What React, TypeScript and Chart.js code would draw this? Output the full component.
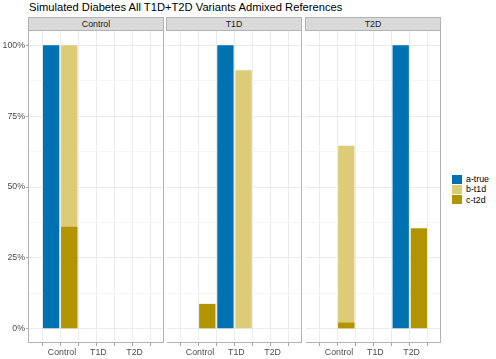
import React, { useEffect, useRef } from 'react';
import { Chart, registerables } from 'chart.js';

Chart.register(...registerables);

// ---------- data ----------
const chartTitle = 'Simulated Diabetes All T1D+T2D Variants Admixed References';
const panelNames = ['Control', 'T1D', 'T2D'];
const xCategories = ['Control', 'T1D', 'T2D'];
// two slots per category: true class (left), predicted (right)
const slots = [1, 2, 3, 4, 5, 6];
const seriesNames = ['a-true', 'b-t1d', 'c-t2d'];
const seriesColors = ['#0072B2', '#DDCC77', '#B29400'];
const yMajorTicks = [0, 25, 50, 75, 100];
const yMinorTicks = [12.5, 37.5, 62.5, 87.5];

// panel "Control"
const controlATrue = [100, null, null, null, null, null];
const controlBT1d = [null, 100, null, null, null, null];
const controlCT2d = [null, 36, null, null, null, null];
// panel "T1D"
const t1dATrue = [null, null, 100, null, null, null];
const t1dBT1d = [null, null, null, 91.2, null, null];
const t1dCT2d = [null, 8.8, null, null, null, null];
// panel "T2D"
const t2dATrue = [null, null, null, null, 100, null];
const t2dBT1d = [null, 64.5, null, null, null, null];
const t2dCT2d = [null, 2.2, null, null, null, 35.5];

const panelValues = [
  [controlATrue, controlBT1d, controlCT2d],
  [t1dATrue, t1dBT1d, t1dCT2d],
  [t2dATrue, t2dBT1d, t2dCT2d],
];

// ---------- layout ----------
const FONT = '"Liberation Sans", Arial, Helvetica, sans-serif';
const PANEL_LEFT = [29, 167, 306];
const PANEL_W = 135;
const PANEL_TOP = 31;
const PANEL_BOTTOM = 343;
const H = 359;
const Y_AXIS_W = 29;
const X_MIN = 0.4;
const X_MAX = 6.6;
const SLOT_PX = PANEL_W / (X_MAX - X_MIN);

const borderPlugin = {
  id: 'panelBorder',
  afterDraw(chart: any) {
    const { ctx, chartArea: a } = chart;
    ctx.save();
    ctx.strokeStyle = '#B3B3B3';
    ctx.lineWidth = 1;
    const l = Math.round(a.left) - 0.5;
    const t = Math.round(a.top) - 0.5;
    const r = Math.round(a.right) - 0.5;
    const b = Math.round(a.bottom) - 0.5;
    ctx.strokeRect(l, t, r - l, b - t);
    ctx.restore();
  },
};

function makeConfig(pi: number, showY: boolean): any {
  const vals = panelValues[pi];
  const datasets = seriesNames.map((name, si) => ({
    label: name,
    data: slots
      .map((x, k) => ({ x, y: vals[si][k] }))
      .filter((p) => p.y !== null),
    backgroundColor: seriesColors[si],
    borderWidth: 0,
    order: seriesNames.length - 1 - si,
    grouped: false,
    categoryPercentage: 0.9,
    barPercentage: 1,
  }));
  const isMajor = (v: number) => yMajorTicks.includes(v);
  return {
    type: 'bar',
    data: { datasets },
    plugins: [borderPlugin],
    options: {
      animation: false,
      responsive: false,
      events: [],
      layout: { padding: { left: 0, right: 1, top: PANEL_TOP, bottom: 0 } },
      plugins: { legend: { display: false }, tooltip: { enabled: false }, title: { display: false } },
      scales: {
        x: {
          type: 'linear',
          min: X_MIN,
          max: X_MAX,
          afterBuildTicks: (s: any) => {
            s.ticks = slots.map((v) => ({ value: v }));
          },
          afterFit: (s: any) => {
            s.height = H - PANEL_BOTTOM;
            s.paddingLeft = 0;
            s.paddingRight = 0;
          },
          border: { display: false },
          grid: {
            color: '#EBEBEB',
            lineWidth: 1,
            drawTicks: true,
            tickLength: 3,
            tickColor: '#A6A6A6',
            tickWidth: 1,
          },
          ticks: {
            autoSkip: false,
            maxRotation: 0,
            minRotation: 0,
            padding: 1,
            labelOffset: SLOT_PX / 2,
            color: '#4D4D4D',
            font: { family: FONT, size: 8.8 },
            callback: (v: number) => {
              const i = (v - 1) / 2;
              return Number.isInteger(i) ? xCategories[i] : '';
            },
          },
        },
        y: {
          type: 'linear',
          min: -5,
          max: 105,
          afterBuildTicks: (s: any) => {
            s.ticks = [...yMajorTicks, ...yMinorTicks].sort((a, b) => a - b).map((v) => ({ value: v }));
          },
          afterFit: (s: any) => {
            s.width = showY ? Y_AXIS_W : 0;
            s.paddingTop = 0;
            s.paddingBottom = 0;
          },
          border: { display: false },
          grid: {
            color: (ctx: any) => (ctx.tick && isMajor(ctx.tick.value) ? '#EBEBEB' : '#F5F5F5'),
            lineWidth: 1,
            drawTicks: showY,
            tickLength: showY ? 3 : 0,
            tickColor: (ctx: any) => (ctx.tick && isMajor(ctx.tick.value) ? '#A6A6A6' : 'rgba(0,0,0,0)'),
            tickWidth: 1,
          },
          ticks: {
            display: showY,
            padding: 1,
            color: '#4D4D4D',
            font: { family: FONT, size: 8.8 },
            callback: (v: number) => (isMajor(v) ? `${v}%` : ''),
          },
        },
      },
    },
  };
}

function Panel({ index }: { index: number }) {
  const ref = useRef<HTMLCanvasElement>(null);
  const showY = index === 0;
  const axisW = showY ? Y_AXIS_W : 0;
  const left = PANEL_LEFT[index] - axisW;
  const width = axisW + PANEL_W + 1;
  useEffect(() => {
    const chart = new Chart(ref.current as HTMLCanvasElement, makeConfig(index, showY));
    return () => chart.destroy();
  }, []);
  return (
    <>
      <canvas
        ref={ref}
        width={width}
        height={H}
        style={{ position: 'absolute', left, top: 0, width, height: H, display: 'block' }}
      />
      <div
        style={{
          position: 'absolute',
          left: PANEL_LEFT[index] - 1,
          top: 17,
          width: PANEL_W + 1,
          height: 14,
          boxSizing: 'border-box',
          background: '#D9D9D9',
          border: '1px solid #B3B3B3',
          fontFamily: FONT,
          fontSize: '8.8px',
          lineHeight: '12px',
          color: '#1A1A1A',
          textAlign: 'center',
        }}
      >
        {panelNames[index]}
      </div>
    </>
  );
}

export default function App() {
  useEffect(() => {
    document.body.style.margin = '0';
  }, []);
  return (
    <div
      style={{
        position: 'fixed',
        left: 0,
        top: 0,
        width: 496,
        height: H,
        background: '#FFFFFF',
        overflow: 'hidden',
      }}
    >
      <div
        style={{
          position: 'absolute',
          left: 29,
          top: 1,
          fontFamily: FONT,
          fontSize: '11.2px',
          lineHeight: '13px',
          color: '#000000',
          whiteSpace: 'nowrap',
        }}
      >
        {chartTitle}
      </div>
      {panelNames.map((_, i) => (
        <Panel key={i} index={i} />
      ))}
      <div style={{ position: 'absolute', left: 452, top: 174 }}>
        {seriesNames.map((name, i) => (
          <div key={name} style={{ display: 'flex', alignItems: 'center', height: 10.3 }}>
            <div style={{ width: 10, height: 9.3, background: seriesColors[i] }} />
            <div
              style={{
                marginLeft: 4,
                fontFamily: FONT,
                fontSize: '8.8px',
                lineHeight: '10px',
                color: '#000000',
                whiteSpace: 'nowrap',
              }}
            >
              {name}
            </div>
          </div>
        ))}
      </div>
    </div>
  );
}
